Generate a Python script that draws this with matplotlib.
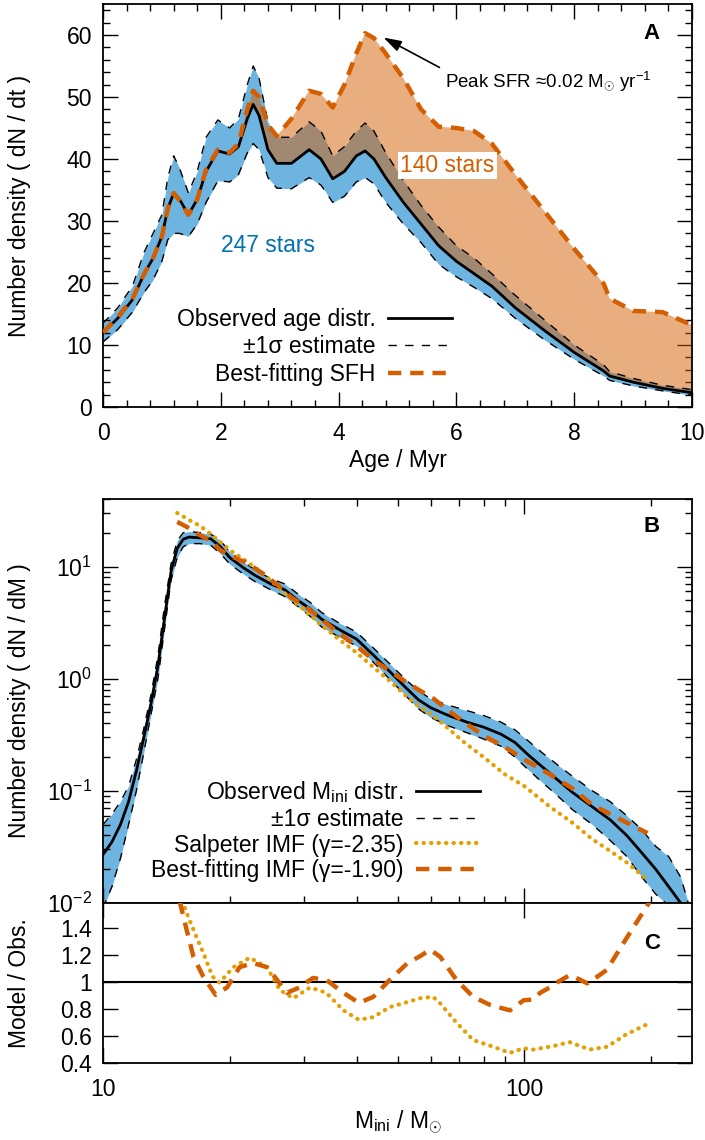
import numpy as np
import matplotlib
matplotlib.use("Agg")
import matplotlib.pyplot as plt
from matplotlib.lines import Line2D
from matplotlib.ticker import MultipleLocator, LogLocator, NullFormatter, FixedLocator

plt.rcParams['font.family'] = ['Liberation Sans', 'DejaVu Sans']
plt.rcParams['mathtext.fontset'] = 'custom'
plt.rcParams['mathtext.rm'] = 'Liberation Sans'
plt.rcParams['mathtext.it'] = 'Liberation Sans:italic'
plt.rcParams['mathtext.bf'] = 'Liberation Sans:bold'

# ---------------- Panel A data ----------------
age = [0, 0.25, 0.5, 0.7, 0.85, 1.0, 1.1, 1.2, 1.3, 1.45, 1.6, 1.75, 1.95, 2.15, 2.3, 2.45,
       2.55, 2.65, 2.8, 2.95, 3.2, 3.5, 3.7, 3.9, 4.1, 4.3, 4.45, 4.6, 4.8, 5.1, 5.4, 5.7,
       6.0, 6.3, 6.6, 7.0, 7.5, 8.0, 8.5, 8.6, 9.0, 9.5, 10.0]
age_obs = [12.0, 14.3, 17.3, 21.5, 24.0, 27.5, 32.0, 34.5, 33.5, 31.0, 33.5, 38.0, 41.3, 40.8, 42.0, 46.5,
           48.8, 47.0, 41.5, 39.3, 39.3, 41.5, 40.0, 36.8, 38.0, 40.5, 41.3, 40.0, 37.0, 33.0, 29.5, 26.0,
           23.5, 21.5, 19.5, 16.0, 12.3, 8.8, 5.8, 5.0, 4.0, 3.0, 2.3]
age_hi = [13.5, 16.0, 19.5, 25.0, 28.0, 31.0, 37.0, 40.5, 38.5, 34.5, 38.0, 43.5, 46.3, 45.0, 46.5, 52.0,
          55.0, 53.0, 46.0, 43.5, 43.5, 46.0, 44.5, 40.5, 42.0, 44.5, 45.8, 44.5, 41.0, 36.5, 32.5, 29.0,
          26.0, 24.0, 21.5, 18.0, 14.0, 10.0, 6.8, 5.7, 4.6, 3.5, 2.8]
age_lo = [10.5, 12.5, 15.3, 18.5, 20.5, 23.5, 27.0, 28.0, 28.0, 27.5, 29.5, 33.0, 36.5, 36.3, 37.5, 41.0,
          42.5, 41.5, 37.0, 35.3, 35.2, 37.0, 35.8, 33.0, 34.0, 36.3, 37.0, 36.0, 33.0, 29.5, 26.5, 23.0,
          21.0, 19.3, 17.5, 14.3, 10.8, 7.7, 5.0, 4.3, 3.4, 2.6, 1.9]
sfh = [12.0, 14.5, 17.5, 21.5, 24.0, 27.5, 32.0, 34.5, 33.3, 31.0, 33.5, 38.3, 41.5, 41.0, 42.5, 48.0,
       51.0, 50.0, 45.5, 43.7, 46.5, 51.0, 50.5, 48.3, 52.0, 57.0, 60.3, 59.5, 57.0, 53.0, 48.0, 45.2,
       45.0, 44.5, 42.5, 37.5, 31.5, 25.5, 19.9, 17.5, 15.5, 15.3, 13.2]

# ---------------- Panel B data ----------------
mass = [10, 10.5, 11, 11.5, 12, 12.5, 13, 13.5, 14, 14.5, 15, 15.5, 16, 17, 18, 19, 20, 21.5, 23, 25,
        27, 29, 31, 33, 36, 40, 44, 48, 52, 56, 60, 66, 73, 80, 88, 95, 102, 110, 120, 130, 145,
        160, 175, 190, 205, 220, 235, 245]
mass_obs = [0.027, 0.035, 0.05, 0.08, 0.15, 0.3, 0.6, 1.3, 3.5, 9.0, 14.5, 17.5, 18.3, 18.0, 17.7, 15.0,
            12.0, 9.8, 8.3, 7.0, 6.2, 5.0, 4.2, 3.4, 2.8, 2.25, 1.6, 1.15, 0.85, 0.65, 0.55, 0.47, 0.41,
            0.37, 0.32, 0.27, 0.21, 0.165, 0.125, 0.097, 0.072, 0.055, 0.04, 0.028, 0.02, 0.014, 0.01, 0.007]
mass_hi = [0.05, 0.062, 0.08, 0.11, 0.19, 0.36, 0.72, 1.6, 4.5, 10.5, 17.0, 20.0, 20.5, 20.0, 19.5, 17.0,
           13.5, 11.0, 9.3, 7.8, 7.0, 5.7, 4.8, 3.9, 3.2, 2.6, 1.85, 1.35, 1.0, 0.78, 0.66, 0.58, 0.52,
           0.47, 0.41, 0.35, 0.28, 0.22, 0.17, 0.135, 0.1, 0.08, 0.06, 0.045, 0.032, 0.026, 0.017, 0.01]
mass_lo = [0.009, 0.014, 0.025, 0.05, 0.1, 0.22, 0.48, 1.0, 2.8, 7.5, 12.0, 15.0, 16.0, 16.0, 15.5, 13.0,
           10.5, 8.6, 7.3, 6.2, 5.4, 4.4, 3.6, 2.9, 2.4, 1.95, 1.38, 0.98, 0.72, 0.54, 0.45, 0.38, 0.33,
           0.29, 0.25, 0.2, 0.155, 0.12, 0.09, 0.068, 0.05, 0.036, 0.026, 0.017, 0.012, 0.0095, 0.007, 0.005]

imf_mass = [15, 16, 17, 18, 19, 20, 22, 24, 26, 28, 30, 33, 36, 40, 44, 48, 52, 56, 61, 66, 72, 80,
            90, 100, 115, 130, 145, 160, 175, 196]
salpeter = [30, 26, 23, 19.5, 16.5, 14, 11, 8.6, 6.6, 5.1, 4.1, 3.0, 2.3, 1.7, 1.25, 0.95, 0.72, 0.57,
            0.46, 0.36, 0.27, 0.2, 0.14, 0.11, 0.072, 0.052, 0.037, 0.029, 0.023, 0.016]
bestfit = [25, 22, 19, 17, 14, 12.5, 10.7, 8.6, 6.8, 5.3, 4.5, 3.4, 2.6, 1.95, 1.45, 1.17, 0.95, 0.8,
           0.66, 0.52, 0.41, 0.31, 0.245, 0.19, 0.14, 0.105, 0.075, 0.062, 0.052, 0.042]

# ---------------- Panel C data ----------------
ratio_best_m = [15.2, 15.8, 16.4, 17.3, 18.5, 19.7, 21.1, 22.7, 24.5, 25.9, 27.3, 29.3, 31.5, 33.9, 37.2,
                40.5, 43.8, 47.9, 52.8, 56.5, 59.8, 63.2, 69, 75.6, 83, 92.4, 99.6, 105, 109, 115, 120,
                128, 135, 141, 149, 157, 172, 188, 198]
ratio_best = [1.6, 1.385, 1.185, 1.04, 0.905, 0.96, 1.11, 1.14, 1.11, 1.015, 0.92, 0.96, 1.03, 1.015, 0.92,
              0.845, 0.89, 1.015, 1.14, 1.19, 1.24, 1.185, 1.015, 0.89, 0.83, 0.79, 0.865, 0.87, 0.92,
              0.96, 1.0, 1.05, 1.02, 0.99, 1.04, 1.09, 1.29, 1.48, 1.59]
ratio_salp_m = [15.4, 16.4, 17.3, 18.2, 18.9, 20.4, 22.3, 24.5, 26.3, 28.3, 31, 33.9, 37.2, 40.5, 43.8,
                48, 52.6, 56.6, 60.7, 63, 69, 75.6, 84.5, 92.4, 99.6, 105, 117, 128, 143, 157, 174, 198]
ratio_salp = [1.6, 1.385, 1.215, 1.04, 0.995, 1.11, 1.18, 1.11, 0.94, 0.88, 0.96, 0.92, 0.79, 0.72, 0.74,
              0.815, 0.85, 0.88, 0.89, 0.845, 0.70, 0.57, 0.52, 0.475, 0.51, 0.50, 0.525, 0.555, 0.50,
              0.52, 0.61, 0.695]

ORANGE = '#D55E00'
YELLOW = '#E69F00'
SKY = '#6EB4E1'
BLUE_TXT = '#0072B2'
FS = 16.5

fig = plt.figure(figsize=(7.05, 11.4), dpi=100)
axA = fig.add_axes([0.1461, 0.6430, 0.8355, 0.3535])
axB = fig.add_axes([0.1461, 0.2079, 0.8355, 0.3544])
axC = fig.add_axes([0.1461, 0.0675, 0.8355, 0.1404], sharex=axB)


def style(ax):
    for s in ax.spines.values():
        s.set_linewidth(1.3)
    ax.tick_params(which='both', direction='in', top=True, right=True, labelsize=FS, width=1.0)
    ax.tick_params(which='major', length=10.5)
    ax.tick_params(which='minor', length=5)
    ax.tick_params(axis='x', pad=11)
    ax.tick_params(axis='y', pad=8)


# ---------------- Panel A ----------------
a = np.array(age)
ob = np.array(age_obs)
sf = np.array(sfh)
axA.fill_between(a, age_lo, age_hi, color=SKY, lw=0, zorder=1)
axA.fill_between(a, ob, sf, where=sf >= ob, interpolate=True, color=ORANGE, alpha=0.5, lw=0, zorder=2)
axA.plot(a, age_hi, color='black', lw=1.0, ls=(0, (6, 6)), zorder=3)
axA.plot(a, age_lo, color='black', lw=1.0, ls=(0, (6, 6)), zorder=3)
axA.plot(a, ob, color='black', lw=2.0, zorder=4)
axA.plot(a, sf, color=ORANGE, lw=3.2, ls=(0, (3, 2)), zorder=5)
axA.set_xlim(0, 10)
axA.set_ylim(0, 65)
axA.xaxis.set_major_locator(MultipleLocator(2))
axA.xaxis.set_minor_locator(MultipleLocator(0.4))
axA.yaxis.set_major_locator(MultipleLocator(10))
axA.yaxis.set_minor_locator(MultipleLocator(2))
style(axA)
axA.set_xlabel('Age / Myr', fontsize=FS)
axA.xaxis.set_label_coords(0.5, -0.105)
axA.set_ylabel('Number density ( dN / dt )', fontsize=FS)
axA.yaxis.set_label_coords(-0.122, 0.5)
axA.text(0.932, 0.928, 'A', transform=axA.transAxes, fontsize=16, fontweight='bold', ha='center', va='center')
axA.text(2.8, 26, '247 stars', color=BLUE_TXT, fontsize=16.5, ha='center', va='center', zorder=6)
axA.text(5.85, 38.9, '140 stars', color=ORANGE, fontsize=16.5, ha='center', va='center', zorder=6,
         bbox=dict(facecolor='white', edgecolor='none', pad=1.5))
axA.annotate('Peak SFR \u22480.02 M$_{\\odot}$ yr$^{-1}$', xy=(4.72, 59.8), xytext=(5.8, 52.6),
             fontsize=13.5, ha='left', va='center',
             arrowprops=dict(arrowstyle='-|>,head_length=0.8,head_width=0.25', color='black', lw=1.2,
                             relpos=(0.0, 0.95), shrinkA=2, shrinkB=2))
hA = [Line2D([], [], color='black', lw=2.0),
      Line2D([], [], color='black', lw=1.0, ls=(0, (6, 6))),
      Line2D([], [], color=ORANGE, lw=3.2, ls=(0, (3, 2)))]
axA.legend(hA, ['Observed age distr.', '\u00b11\u03c3 estimate', 'Best-fitting SFH'],
           loc='center right', bbox_to_anchor=(0.593, 0.149), borderaxespad=0, borderpad=0,
           frameon=False, markerfirst=False, fontsize=FS, handlelength=2.8, handletextpad=0.55,
           labelspacing=0.18)

# ---------------- Panel B ----------------
axB.fill_between(mass, mass_lo, mass_hi, color=SKY, lw=0, zorder=1)
axB.plot(mass, mass_hi, color='black', lw=1.0, ls=(0, (6, 6)), zorder=3)
axB.plot(mass, mass_lo, color='black', lw=1.0, ls=(0, (6, 6)), zorder=3)
axB.plot(mass, mass_obs, color='black', lw=2.0, zorder=4)
axB.plot(imf_mass, salpeter, color=YELLOW, lw=3.0, ls=(0, (0.1, 1.7)), dash_capstyle='round', zorder=5)
axB.plot(imf_mass, bestfit, color=ORANGE, lw=3.2, ls=(0, (3, 2)), zorder=6)
axB.set_xscale('log')
axB.set_yscale('log')
axB.set_xlim(10, 250)
axB.set_ylim(0.01, 40)
axB.yaxis.set_major_locator(LogLocator(base=10, numticks=10))
axB.yaxis.set_minor_locator(LogLocator(base=10, subs=np.arange(2, 10), numticks=20))
axB.yaxis.set_minor_formatter(NullFormatter())
style(axB)
axB.tick_params(axis='x', labelbottom=False)
axB.set_ylabel('Number density ( dN / dM )', fontsize=FS)
axB.yaxis.set_label_coords(-0.122, 0.5)
axB.text(0.932, 0.931, 'B', transform=axB.transAxes, fontsize=16, fontweight='bold', ha='center', va='center')
hB = [Line2D([], [], color='black', lw=2.0),
      Line2D([], [], color='black', lw=1.0, ls=(0, (6, 6))),
      Line2D([], [], color=YELLOW, lw=3.0, ls=(0, (0.1, 1.7)), dash_capstyle='round'),
      Line2D([], [], color=ORANGE, lw=3.2, ls=(0, (3, 2)))]
axB.legend(hB, [r'Observed M$_{\rm ini}$ distr.', '\u00b11\u03c3 estimate',
                'Salpeter IMF (\u03b3=-2.35)', 'Best-fitting IMF (\u03b3=-1.90)'],
           loc='center right', bbox_to_anchor=(0.64, 0.179), borderaxespad=0, borderpad=0,
           frameon=False, markerfirst=False, fontsize=FS, handlelength=2.8, handletextpad=0.55,
           labelspacing=0.12)

# ---------------- Panel C ----------------
axC.axhline(1.0, color='black', lw=1.5, zorder=2)
axC.plot(ratio_salp_m, ratio_salp, color=YELLOW, lw=3.0, ls=(0, (0.1, 1.7)), dash_capstyle='round', zorder=3)
axC.plot(ratio_best_m, ratio_best, color=ORANGE, lw=3.2, ls=(0, (3, 2)), zorder=4)
axC.set_ylim(0.4, 1.585)
axC.yaxis.set_major_locator(FixedLocator([0.4, 0.6, 0.8, 1.0, 1.2, 1.4]))
axC.set_yticklabels(['0.4', '0.6', '0.8', '1', '1.2', '1.4'])
style(axC)
axC.tick_params(axis='x', which='minor', top=False)
axC.xaxis.set_minor_formatter(NullFormatter())
axC.set_xticks([10, 100])
axC.set_xticklabels(['10', '100'])
axC.set_xlim(10, 250)
axC.set_ylabel('Model / Obs.', fontsize=FS)
axC.yaxis.set_label_coords(-0.122, 0.5)
axC.set_xlabel(r'M$_{\rm ini}$ / M$_{\odot}$', fontsize=FS)
axC.xaxis.set_label_coords(0.5, -0.28)
axC.text(0.932, 0.75, 'C', transform=axC.transAxes, fontsize=16, fontweight='bold', ha='center', va='center')

fig.savefig('out.png', dpi=100)
